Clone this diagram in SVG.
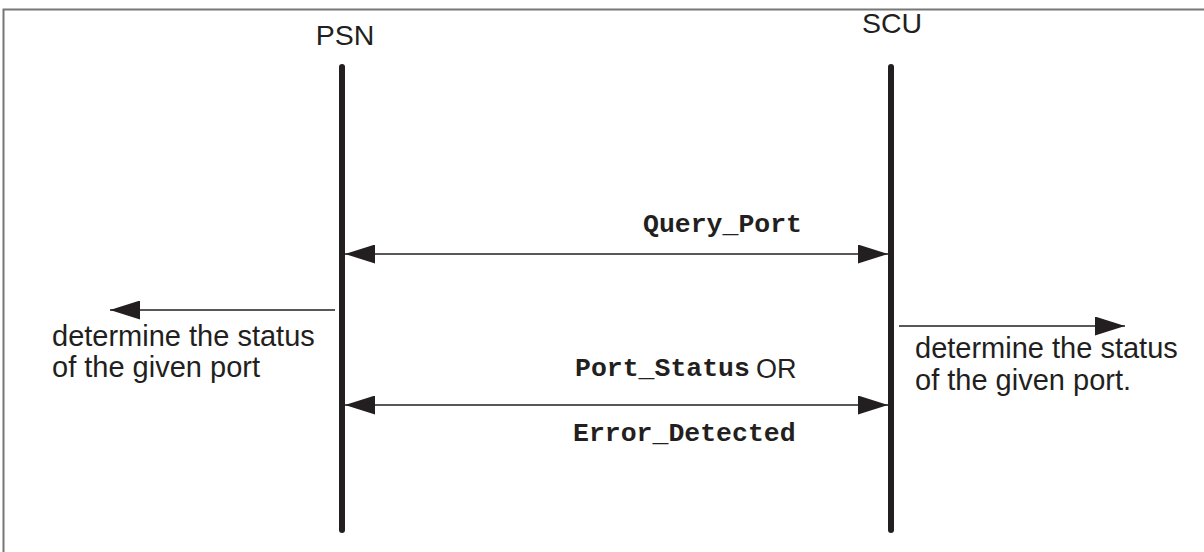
<svg xmlns="http://www.w3.org/2000/svg" width="1204" height="552" viewBox="0 0 1204 552">
  <style>
    .sans { font-family: "Liberation Sans", Arial, sans-serif; fill: #231f20; }
    .mono { font-family: "Liberation Mono", "Courier New", monospace; font-weight: bold; fill: #231f20; }
    .life { stroke: #231f20; stroke-width: 6; stroke-linecap: round; fill: none; }
    .msg { stroke: #231f20; stroke-width: 1.6; fill: none; }
    .border { stroke: #777; stroke-width: 2; fill: none; }
  </style>
  <defs>
    <marker id="ah" viewBox="0 0 30 19" refX="30" refY="9.5" markerUnits="userSpaceOnUse" markerWidth="30" markerHeight="19" orient="auto-start-reverse">
      <path d="M0,0 L30,9.5 L0,19 Z" fill="#231f20"/>
    </marker>
  </defs>
  <rect width="1204" height="552" fill="#fff"/>
  <g id="frame">
    <path class="border" d="M3.5,552 L3.5,9.5 L1204,9.5"/>
  </g>
  <g id="psn">
    <text class="sans" x="345" y="45" font-size="28.5" text-anchor="middle">PSN</text>
    <line class="life" x1="342" y1="67" x2="342" y2="530"/>
  </g>
  <g id="scu">
    <text class="sans" x="892" y="33" font-size="28.5" text-anchor="middle">SCU</text>
    <line class="life" x1="891" y1="67" x2="891" y2="530"/>
  </g>
  <g id="connectors">
    <line class="msg" x1="345" y1="254" x2="888" y2="254" marker-start="url(#ah)" marker-end="url(#ah)"/>
    <line class="msg" x1="345" y1="405" x2="888" y2="405" marker-start="url(#ah)" marker-end="url(#ah)"/>
    <line class="msg" x1="335" y1="310" x2="110" y2="310" marker-end="url(#ah)"/>
    <line class="msg" x1="899" y1="326" x2="1125" y2="326" marker-end="url(#ah)"/>
  </g>
  <g id="labels">
    <text class="mono" x="643" y="232" font-size="26.5">Query_Port</text>
    <text class="mono" x="575" y="376" font-size="26.5">Port_Status</text>
    <text class="sans" x="756" y="378" font-size="27">OR</text>
    <text class="mono" x="573" y="441" font-size="26.5">Error_Detected</text>
  </g>
  <g id="left-note">
    <text class="sans" x="52" y="346" font-size="29">determine the status</text>
    <text class="sans" x="52" y="377" font-size="29">of the given port</text>
  </g>
  <g id="right-note">
    <text class="sans" x="915" y="358" font-size="29">determine the status</text>
    <text class="sans" x="915" y="390" font-size="29">of the given port.</text>
  </g>
</svg>
